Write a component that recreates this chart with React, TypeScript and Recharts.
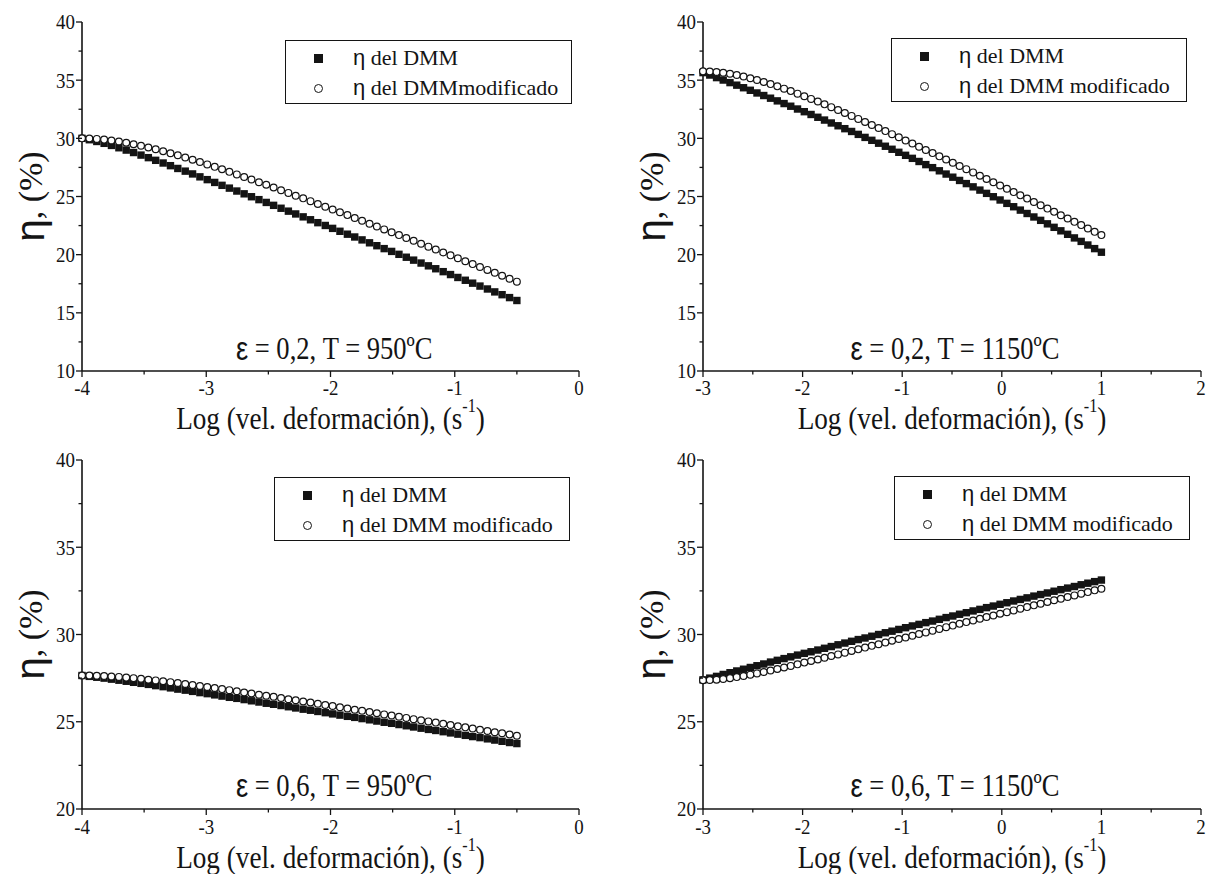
import React from 'react'
import { ScatterChart, Scatter, XAxis, YAxis, Legend, ReferenceDot } from 'recharts'

// log strain rate, 950ºC panels (-4 .. -0.5) and 1150ºC panels (-3 .. 1)
const logRate950 = [
  -4.0, -3.941, -3.881, -3.822, -3.763, -3.703, -3.644, -3.585, -3.525, -3.466,
  -3.407, -3.347, -3.288, -3.229, -3.169, -3.11, -3.051, -2.992, -2.932, -2.873,
  -2.814, -2.754, -2.695, -2.636, -2.576, -2.517, -2.458, -2.398, -2.339, -2.28,
  -2.22, -2.161, -2.102, -2.042, -1.983, -1.924, -1.864, -1.805, -1.746, -1.686,
  -1.627, -1.568, -1.508, -1.449, -1.39, -1.331, -1.271, -1.212, -1.153, -1.093,
  -1.034, -0.975, -0.915, -0.856, -0.797, -0.737, -0.678, -0.619, -0.559, -0.5,
]
const logRate1150 = [
  -3.0, -2.932, -2.864, -2.797, -2.729, -2.661, -2.593, -2.525, -2.458, -2.39,
  -2.322, -2.254, -2.186, -2.119, -2.051, -1.983, -1.915, -1.847, -1.78, -1.712,
  -1.644, -1.576, -1.508, -1.441, -1.373, -1.305, -1.237, -1.169, -1.102, -1.034,
  -0.966, -0.898, -0.831, -0.763, -0.695, -0.627, -0.559, -0.492, -0.424, -0.356,
  -0.288, -0.22, -0.153, -0.085, -0.017, 0.051, 0.119, 0.186, 0.254, 0.322,
  0.39, 0.458, 0.525, 0.593, 0.661, 0.729, 0.797, 0.864, 0.932, 1.0,
]

// eficiencia η (%)
const dmm_02_950 = [
  30.0, 29.88, 29.73, 29.57, 29.39, 29.19, 28.99, 28.78, 28.56, 28.34,
  28.11, 27.88, 27.65, 27.41, 27.18, 26.94, 26.69, 26.45, 26.21, 25.96,
  25.72, 25.47, 25.23, 24.98, 24.73, 24.49, 24.24, 23.99, 23.74, 23.5,
  23.25, 23.0, 22.75, 22.51, 22.26, 22.01, 21.76, 21.52, 21.27, 21.02,
  20.77, 20.52, 20.28, 20.03, 19.78, 19.53, 19.28, 19.04, 18.79, 18.54,
  18.29, 18.04, 17.8, 17.55, 17.3, 17.05, 16.8, 16.56, 16.31, 16.06,
]
const mod_02_950 = [
  30.0, 29.99, 29.95, 29.89, 29.82, 29.73, 29.62, 29.49, 29.36, 29.21,
  29.06, 28.89, 28.72, 28.54, 28.35, 28.16, 27.96, 27.76, 27.55, 27.34,
  27.12, 26.9, 26.68, 26.46, 26.23, 26.01, 25.78, 25.54, 25.31, 25.07,
  24.84, 24.6, 24.36, 24.12, 23.88, 23.64, 23.4, 23.15, 22.91, 22.66,
  22.42, 22.17, 21.93, 21.68, 21.43, 21.19, 20.94, 20.69, 20.44, 20.19,
  19.94, 19.69, 19.44, 19.19, 18.94, 18.69, 18.44, 18.19, 17.93, 17.68,
]
const dmm_02_1150 = [
  35.65, 35.44, 35.22, 35.01, 34.79, 34.57, 34.35, 34.13, 33.9, 33.68,
  33.45, 33.22, 32.99, 32.76, 32.52, 32.29, 32.05, 31.81, 31.57, 31.32,
  31.08, 30.83, 30.59, 30.34, 30.08, 29.83, 29.58, 29.32, 29.06, 28.8,
  28.54, 28.28, 28.01, 27.74, 27.48, 27.21, 26.93, 26.66, 26.38, 26.11,
  25.83, 25.55, 25.27, 24.98, 24.7, 24.41, 24.12, 23.83, 23.54, 23.24,
  22.95, 22.65, 22.35, 22.05, 21.75, 21.44, 21.14, 20.83, 20.52, 20.21,
]
const mod_02_1150 = [
  35.76, 35.75, 35.7, 35.64, 35.55, 35.44, 35.31, 35.17, 35.01, 34.84,
  34.66, 34.47, 34.27, 34.06, 33.84, 33.62, 33.39, 33.16, 32.92, 32.68,
  32.43, 32.18, 31.93, 31.67, 31.41, 31.15, 30.89, 30.62, 30.36, 30.09,
  29.82, 29.55, 29.28, 29.0, 28.73, 28.45, 28.18, 27.9, 27.62, 27.35,
  27.07, 26.79, 26.51, 26.23, 25.94, 25.66, 25.38, 25.1, 24.82, 24.53,
  24.25, 23.96, 23.68, 23.39, 23.11, 22.82, 22.54, 22.25, 21.96, 21.68,
]
const dmm_06_950 = [
  27.65, 27.6, 27.55, 27.5, 27.44, 27.38, 27.32, 27.26, 27.2, 27.14,
  27.07, 27.01, 26.94, 26.87, 26.81, 26.74, 26.67, 26.61, 26.54, 26.47,
  26.4, 26.34, 26.27, 26.2, 26.13, 26.06, 26.0, 25.93, 25.86, 25.79,
  25.72, 25.66, 25.59, 25.52, 25.45, 25.38, 25.31, 25.25, 25.18, 25.11,
  25.04, 24.97, 24.91, 24.84, 24.77, 24.7, 24.63, 24.56, 24.5, 24.43,
  24.36, 24.29, 24.22, 24.15, 24.09, 24.02, 23.95, 23.88, 23.81, 23.75,
]
const mod_06_950 = [
  27.65, 27.65, 27.64, 27.62, 27.59, 27.57, 27.53, 27.5, 27.46, 27.41,
  27.37, 27.32, 27.27, 27.22, 27.16, 27.11, 27.05, 26.99, 26.93, 26.87,
  26.81, 26.75, 26.68, 26.62, 26.55, 26.49, 26.43, 26.36, 26.29, 26.23,
  26.16, 26.1, 26.03, 25.96, 25.9, 25.83, 25.76, 25.69, 25.63, 25.56,
  25.49, 25.42, 25.36, 25.29, 25.22, 25.15, 25.08, 25.02, 24.95, 24.88,
  24.81, 24.74, 24.68, 24.61, 24.54, 24.47, 24.4, 24.34, 24.27, 24.2,
]
const dmm_06_1150 = [
  27.4, 27.5, 27.6, 27.71, 27.81, 27.91, 28.01, 28.11, 28.21, 28.31,
  28.42, 28.52, 28.62, 28.72, 28.82, 28.92, 29.01, 29.11, 29.21, 29.31,
  29.41, 29.51, 29.61, 29.71, 29.8, 29.9, 30.0, 30.1, 30.19, 30.29,
  30.39, 30.49, 30.58, 30.68, 30.77, 30.87, 30.97, 31.06, 31.16, 31.25,
  31.35, 31.44, 31.54, 31.63, 31.73, 31.82, 31.92, 32.01, 32.1, 32.2,
  32.29, 32.38, 32.48, 32.57, 32.66, 32.75, 32.85, 32.94, 33.03, 33.12,
]
const mod_06_1150 = [
  27.38, 27.39, 27.41, 27.45, 27.5, 27.56, 27.62, 27.7, 27.77, 27.85,
  27.94, 28.02, 28.11, 28.2, 28.29, 28.39, 28.48, 28.57, 28.67, 28.77,
  28.86, 28.96, 29.06, 29.15, 29.25, 29.35, 29.44, 29.54, 29.64, 29.74,
  29.83, 29.93, 30.03, 30.12, 30.22, 30.32, 30.42, 30.51, 30.61, 30.71,
  30.8, 30.9, 31.0, 31.09, 31.19, 31.28, 31.38, 31.48, 31.57, 31.67,
  31.76, 31.86, 31.96, 32.05, 32.15, 32.24, 32.34, 32.43, 32.53, 32.62,
]

// ejes
const ticks950 = [-4, -3.5, -3, -2.5, -2, -1.5, -1, -0.5, 0]
const ticks1150 = [-3, -2.5, -2, -1.5, -1, -0.5, 0, 0.5, 1, 1.5, 2]
const ticksEta02 = [10, 12.5, 15, 17.5, 20, 22.5, 25, 27.5, 30, 32.5, 35, 37.5, 40]
const ticksEta06 = [20, 22.5, 25, 27.5, 30, 32.5, 35, 37.5, 40]

const INK = '#141414'
const SERIF = "'Liberation Serif', 'Times New Roman', serif"
const SANS = "'Liberation Sans', Arial, sans-serif"

// ticks drawn by hand so majors/minors get different lengths (Origin style)
// eslint-disable-next-line @typescript-eslint/no-explicit-any
function BottomTick({ x, y, payload, labelDy }: any) {
  const v = payload.value
  const major = Number.isInteger(v)
  return (
    <g>
      <line x1={x} y1={y} x2={x} y2={y + (major ? 6 : 3.5)} stroke={INK} strokeWidth={1.3} />
      {major && (
        <text transform={`translate(${x},${y + labelDy}) scale(0.9,1)`} textAnchor="middle"
          dominantBaseline="central" fontFamily={SERIF} fontSize={21} fill={INK}>{String(v)}</text>
      )}
    </g>
  )
}

// eslint-disable-next-line @typescript-eslint/no-explicit-any
function TopTick({ x, y, payload }: any) {
  const major = Number.isInteger(payload.value)
  return <line x1={x} y1={y} x2={x} y2={y + (major ? 5 : 3)} stroke={INK} strokeWidth={1.3} />
}

// eslint-disable-next-line @typescript-eslint/no-explicit-any
function LeftTick({ x, y, payload }: any) {
  const v = payload.value
  const major = v % 5 === 0
  return (
    <g>
      <line x1={x - (major ? 6 : 3.5)} y1={y} x2={x} y2={y} stroke={INK} strokeWidth={1.3} />
      {major && (
        <text transform={`translate(${x - 7},${y}) scale(0.9,1)`} textAnchor="end"
          dominantBaseline="central" fontFamily={SERIF} fontSize={21} fill={INK}>{String(v)}</text>
      )}
    </g>
  )
}

// eslint-disable-next-line @typescript-eslint/no-explicit-any
function RightTick({ x, y, payload }: any) {
  const major = payload.value % 5 === 0
  return <line x1={x - (major ? 5 : 3)} y1={y} x2={x} y2={y} stroke={INK} strokeWidth={1.3} />
}

// eslint-disable-next-line @typescript-eslint/no-explicit-any
function XTitle({ viewBox, dy }: any) {
  const { x, y, width } = viewBox
  return (
    <text transform={`translate(${x + width / 2},${y + dy}) scale(0.85,1)`} textAnchor="middle"
      dominantBaseline="central" fontFamily={SERIF} fontSize={32} fill={INK}>
      Log (vel. deformación), (s<tspan dy={-12} fontSize={19}>-1</tspan><tspan dy={12}>)</tspan>
    </text>
  )
}

// eslint-disable-next-line @typescript-eslint/no-explicit-any
function YTitle({ viewBox }: any) {
  const { x, y, width, height } = viewBox
  return (
    <text transform={`translate(${x + width - 52},${y + height / 2}) rotate(-90)`} textAnchor="middle"
      dominantBaseline="central" fontFamily={SERIF} fontSize={34} fill={INK}>
      <tspan fontFamily={SANS} fontSize={40}>η</tspan>, (%)
    </text>
  )
}

// eslint-disable-next-line @typescript-eslint/no-explicit-any
function Anno({ viewBox, text }: any) {
  const cx = viewBox.x + viewBox.width / 2
  const cy = viewBox.y + viewBox.height / 2
  return (
    <text transform={`translate(${cx},${cy}) scale(0.83,1)`} textAnchor="middle"
      dominantBaseline="central" fontFamily={SERIF} fontSize={32} fill={INK}>
      <tspan fontFamily={SANS} fontSize={33}>ε</tspan>{text}
    </text>
  )
}

// eslint-disable-next-line @typescript-eslint/no-explicit-any
const Square = ({ cx, cy }: any) => <rect x={cx - 3.7} y={cy - 3.7} width={7.4} height={7.4} fill={INK} />
// eslint-disable-next-line @typescript-eslint/no-explicit-any
const Ring = ({ cx, cy }: any) => <circle cx={cx} cy={cy} r={3.4} fill="#fff" stroke={INK} strokeWidth={1.2} />

function LegendBox({ w, modLabel }: { w: number; modLabel: string }) {
  const row: React.CSSProperties = {
    position: 'absolute', left: 28, height: 30, display: 'flex', alignItems: 'center',
  }
  return (
    <div style={{
      boxSizing: 'border-box', width: w, height: 64, border: `1.6px solid ${INK}`, background: '#fff',
      position: 'relative', fontFamily: SERIF, fontSize: 22, color: INK, whiteSpace: 'nowrap', lineHeight: 1,
    }}>
      <div style={{ ...row, top: 2 }}>
        <div style={{ width: 9, height: 9, background: INK }} />
        <span style={{ marginLeft: 30, fontFamily: SERIF }}><span style={{ fontFamily: SANS }}>η</span> del DMM</span>
      </div>
      <div style={{ ...row, top: 32 }}>
        <div style={{ boxSizing: 'border-box', width: 9, height: 9, borderRadius: '50%', border: `1.2px solid ${INK}` }} />
        <span style={{ marginLeft: 30, fontFamily: SERIF }}><span style={{ fontFamily: SANS }}>η</span> {modLabel}</span>
      </div>
    </div>
  )
}

interface PanelProps {
  left: number
  top: number
  width: number
  height: number
  marginTop: number
  marginRight: number
  yAxisWidth: number
  xTicks: number[]
  yTicks: number[]
  xs: number[]
  dmm: number[]
  mod: number[]
  modLabel: string
  legend: { x: number; y: number; w: number }
  anno: { x: number; y: number; text: string }
  tickDy: number
  titleDy: number
}

function Panel(p: PanelProps) {
  const xDomain = [p.xTicks[0], p.xTicks[p.xTicks.length - 1]]
  const yDomain = [p.yTicks[0], p.yTicks[p.yTicks.length - 1]]
  const dmmPts = p.xs.map((x, i) => ({ x, y: p.dmm[i] }))
  const modPts = p.xs.map((x, i) => ({ x, y: p.mod[i] }))
  const axisLine = { stroke: INK, strokeWidth: 1.6 }
  const xAxisHeight = p.height - p.marginTop - 349

  return (
    <div style={{ position: 'absolute', left: p.left, top: p.top }}>
      <ScatterChart width={p.width} height={p.height}
        margin={{ top: p.marginTop, right: p.marginRight, bottom: 0, left: 0 }}>
        <XAxis type="number" dataKey="x" domain={xDomain} ticks={p.xTicks} interval={0}
          height={xAxisHeight} tickSize={0} tickMargin={0} tickLine={false} axisLine={axisLine}
          tick={<BottomTick labelDy={p.tickDy} />} label={<XTitle dy={p.titleDy} />} />
        <XAxis xAxisId="top" orientation="top" type="number" domain={xDomain} ticks={p.xTicks}
          interval={0} height={0} tickSize={0} tickMargin={0} tickLine={false} axisLine={axisLine}
          tick={<TopTick />} />
        <YAxis type="number" dataKey="y" domain={yDomain} ticks={p.yTicks} interval={0}
          width={p.yAxisWidth} tickSize={0} tickMargin={0} tickLine={false} axisLine={axisLine}
          tick={<LeftTick />} label={<YTitle />} />
        <YAxis yAxisId="r" orientation="right" type="number" domain={yDomain} ticks={p.yTicks}
          interval={0} width={0} tickSize={0} tickMargin={0} tickLine={false} axisLine={axisLine}
          tick={<RightTick />} />
        <Legend layout="horizontal" verticalAlign="middle" align="center"
          wrapperStyle={{ left: p.legend.x, top: p.legend.y, width: p.legend.w, height: 64 }}
          content={() => <LegendBox w={p.legend.w} modLabel={p.modLabel} />} />
        <ReferenceDot x={p.anno.x} y={p.anno.y} r={1} fill="none" stroke="none"
          label={<Anno text={p.anno.text} />} />
        <Scatter name="η del DMM" data={dmmPts} shape={Square} isAnimationActive={false} />
        <Scatter name={`η ${p.modLabel}`} data={modPts} shape={Ring} isAnimationActive={false} />
      </ScatterChart>
    </div>
  )
}

export default function App() {
  return (
    <div style={{ position: 'absolute', left: 0, top: 0, width: 1208, height: 874, background: '#fff', overflow: 'hidden' }}>
      <Panel left={0} top={0} width={600} height={440} marginTop={22} marginRight={21} yAxisWidth={82}
        xTicks={ticks950} yTicks={ticksEta02} xs={logRate950} dmm={dmm_02_950} mod={mod_02_950}
        modLabel="del DMMmodificado" legend={{ x: 285, y: 40, w: 287 }}
        anno={{ x: -1.97, y: 12, text: ' = 0,2, T = 950ºC' }} tickDy={17} titleDy={47} />
      <Panel left={600} top={0} width={608} height={440} marginTop={22} marginRight={7} yAxisWidth={103}
        xTicks={ticks1150} yTicks={ticksEta02} xs={logRate1150} dmm={dmm_02_1150} mod={mod_02_1150}
        modLabel="del DMM modificado" legend={{ x: 291, y: 38, w: 296 }}
        anno={{ x: -0.47, y: 12, text: ' = 0,2, T = 1150ºC' }} tickDy={17} titleDy={47} />
      <Panel left={0} top={440} width={600} height={434} marginTop={20} marginRight={21} yAxisWidth={82}
        xTicks={ticks950} yTicks={ticksEta06} xs={logRate950} dmm={dmm_06_950} mod={mod_06_950}
        modLabel="del DMM modificado" legend={{ x: 274, y: 37, w: 296 }}
        anno={{ x: -1.97, y: 21.38, text: ' = 0,6, T = 950ºC' }} tickDy={18} titleDy={48} />
      <Panel left={600} top={440} width={608} height={434} marginTop={20} marginRight={7} yAxisWidth={103}
        xTicks={ticks1150} yTicks={ticksEta06} xs={logRate1150} dmm={dmm_06_1150} mod={mod_06_1150}
        modLabel="del DMM modificado" legend={{ x: 294, y: 36, w: 296 }}
        anno={{ x: -0.47, y: 21.38, text: ' = 0,6, T = 1150ºC' }} tickDy={18} titleDy={48} />
    </div>
  )
}
